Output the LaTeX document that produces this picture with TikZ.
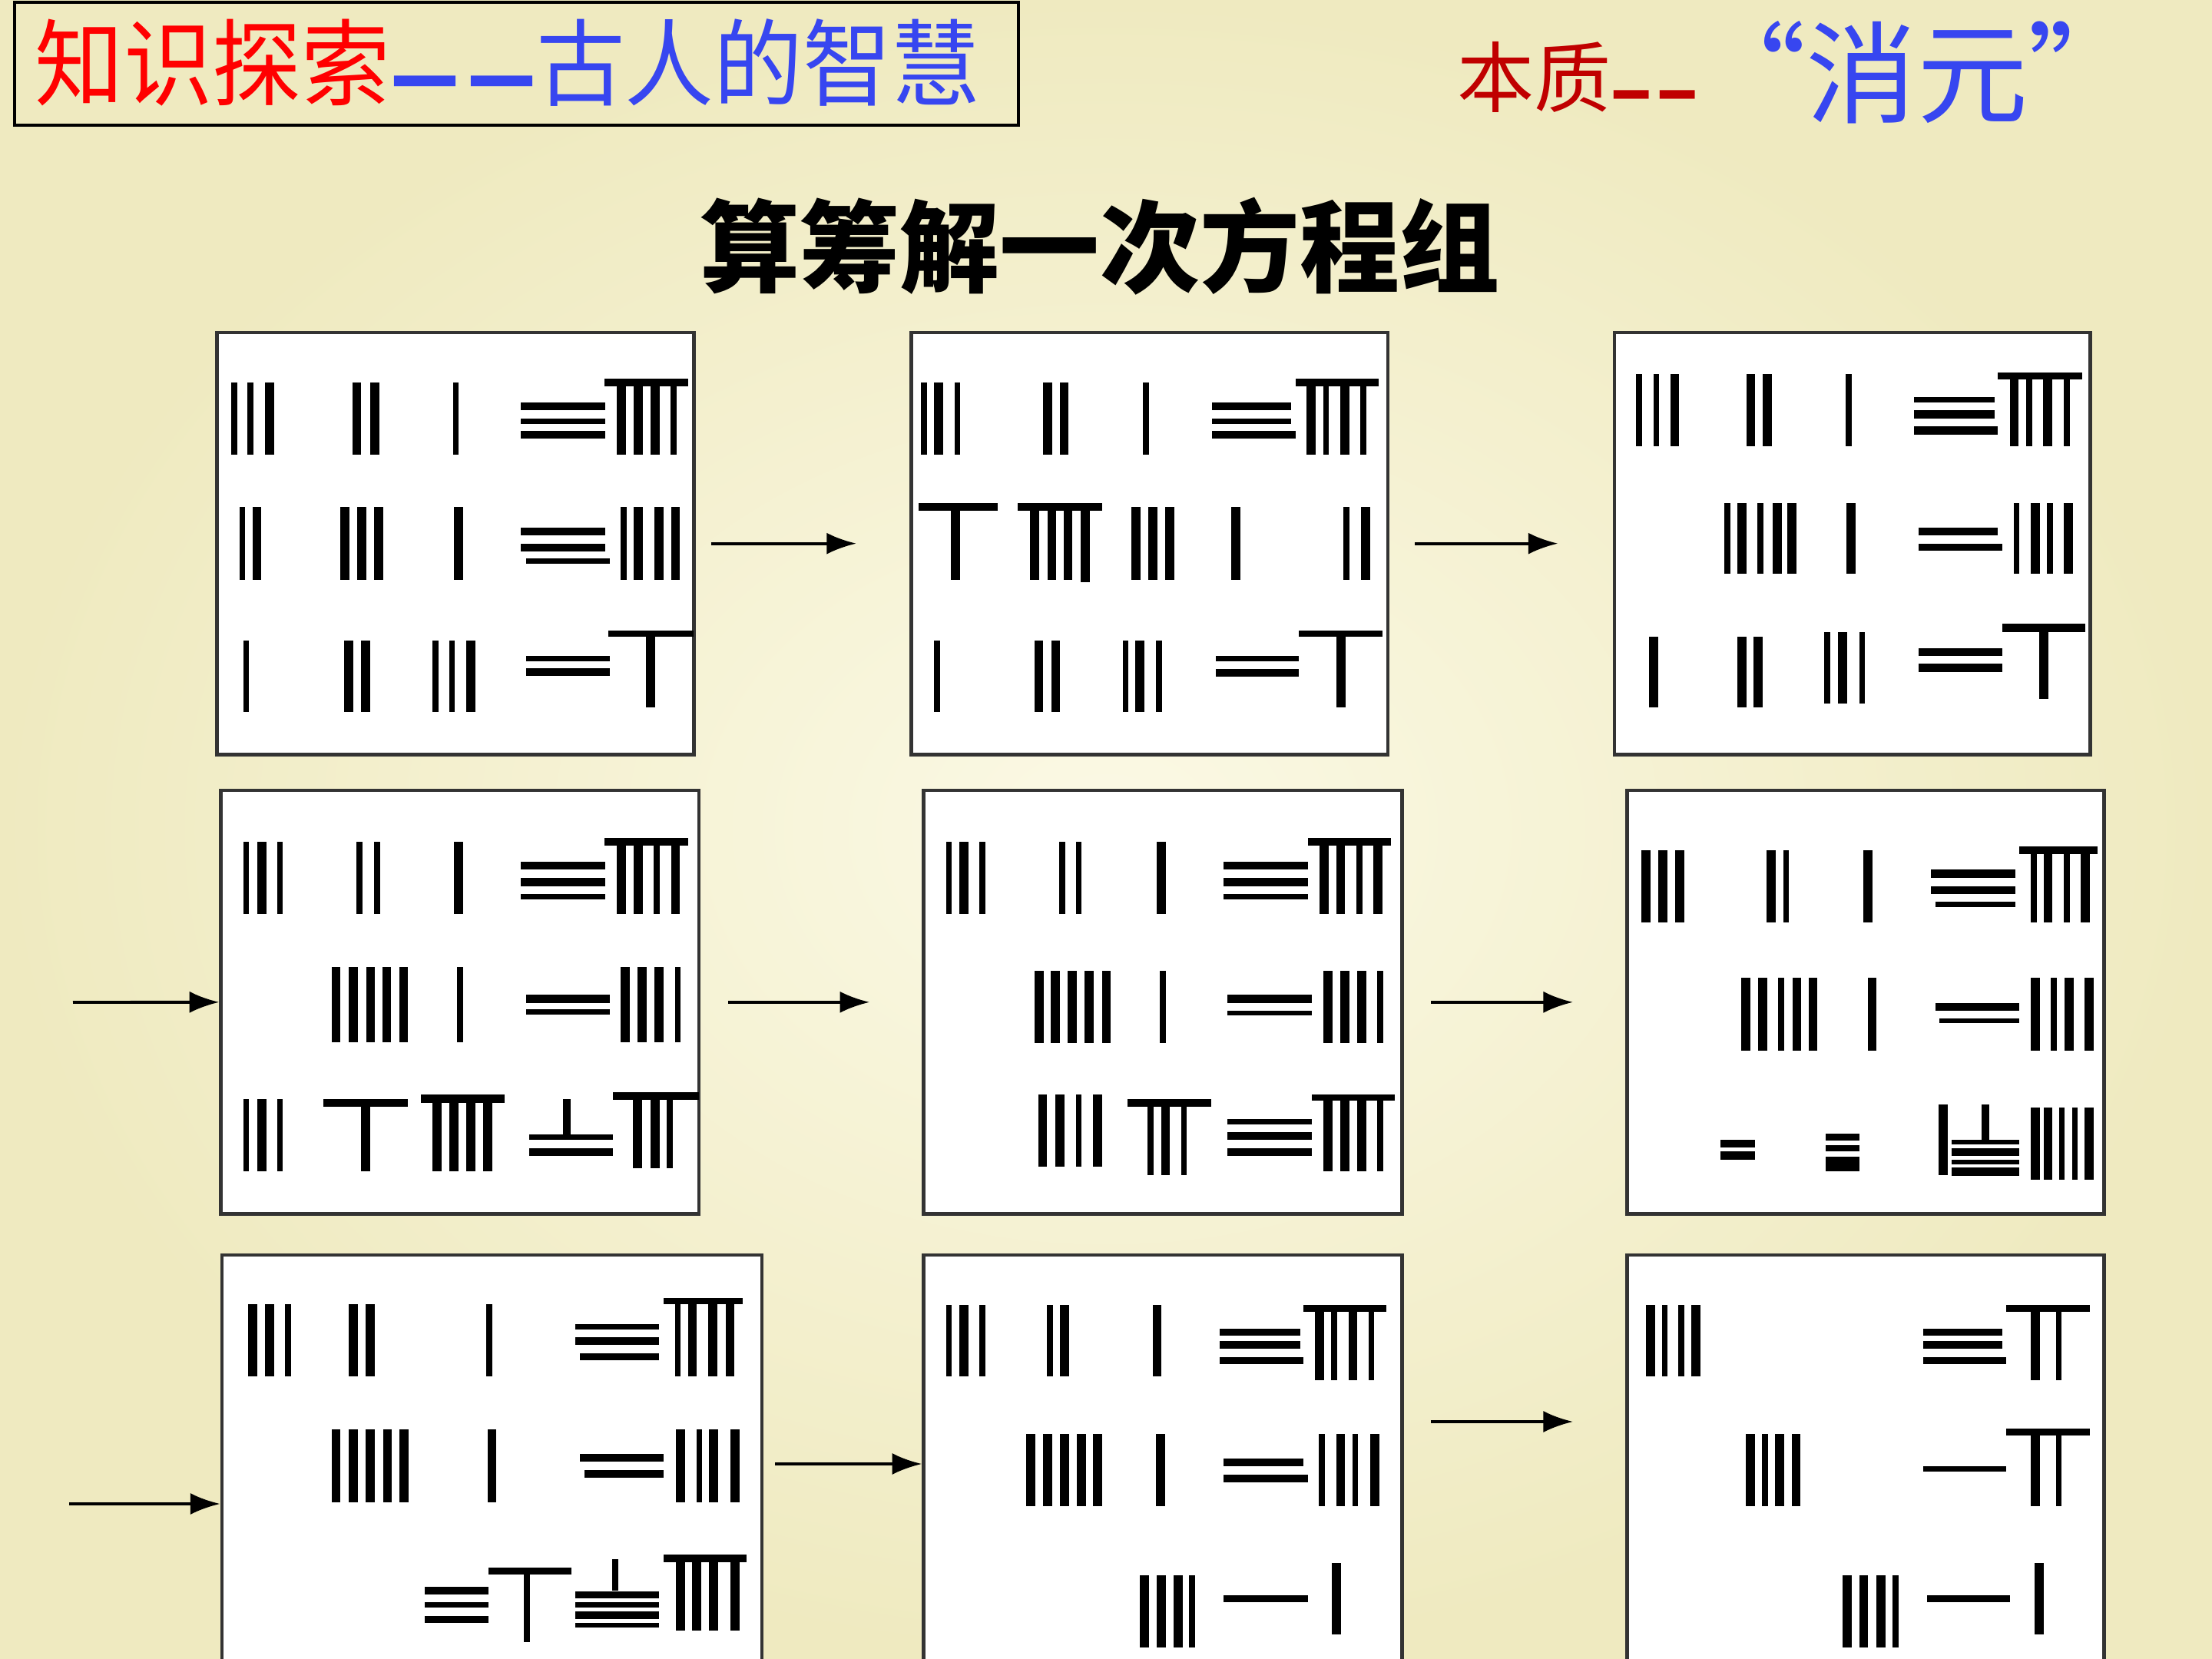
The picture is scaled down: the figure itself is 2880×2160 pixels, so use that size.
\documentclass[tikz,border=0pt]{standalone}
\usepackage{fontspec}
\usepackage{graphicx}
\newfontfamily\cjk{Noto Sans CJK SC}
\usetikzlibrary{arrows.meta,fit}
\definecolor{bgin}{RGB}{251,249,229}
\definecolor{bgout}{RGB}{239,234,192}
\definecolor{tred}{RGB}{255,0,0}
\definecolor{tblue}{RGB}{55,70,240}
\definecolor{dred}{RGB}{192,0,0}
\newcommand\rodV[3]{\foreach \x/\w in {#1}{\fill[rod] ({\x-\w/2},#2) rectangle ({\x+\w/2},#3);}}
\newcommand\rodH[3]{\foreach \y/\w in {#1}{\fill[rod] (#2,{\y-\w/2}) rectangle (#3,{\y+\w/2});}}
\begin{document}
\begin{tikzpicture}[x=0.01cm,y=-0.01cm,
  rod/.style={fill=black},
  rodbox/.style={draw=black!80,line width=1.3pt,fill=white,inner sep=0pt},
  arr/.style={line width=1.1pt,-{Latex[length=11pt,width=8pt]}}]
\useasboundingbox (0,0) rectangle (2880,2160);
\clip (0,0) rectangle (2880,2160);
\shade[inner color=bgin,outer color=bgout] (0,0) rectangle (2880,2160);

% title box
\node[draw=black,line width=1.4pt,inner sep=0pt,fit={(19,3) (1326,163)}] (T) {};
\node[font=\cjk\fontsize{35pt}{36pt}\selectfont] (tt) at (661,83)
  {\scalebox{0.94}[1]{\textcolor{tred}{知识探索}\textcolor{tblue}{\raisebox{-0.1em}{\bfseries\scalebox{0.85}[1]{—}\hspace{3pt}\scalebox{0.85}[1]{—}}古人的智慧}}};
% right heading
\node[font=\cjk\fontsize{28.5pt}{30pt}\selectfont,text=dred,anchor=west,inner sep=0pt] (h1) at (1897,103)
  {本质\raisebox{-0.14em}{\bfseries\scalebox{0.56}[1]{—}\hspace{2.5pt}\scalebox{0.56}[1]{—}}};
\node[font=\cjk\fontsize{41pt}{42pt}\selectfont,text=tblue] (h2) at (2496,94) {“消元”};
% main title
\node[font=\cjk\bfseries\fontsize{37pt}{38pt}\selectfont] (mt) at (1432,321) {算筹解一次方程组};

% frames
\node[rodbox,fit={(282.6,433) (903.5,982.3)}] (B1) {};
\node[rodbox,fit={(1186.3,433) (1807.1,982.3)}] (B2) {};
\node[rodbox,fit={(2101.8,433) (2721.4,982.3)}] (B3) {};
\node[rodbox,fit={(287.7,1029.2) (909.8,1580.4)}] (B4) {};
\node[rodbox,fit={(1202.6,1029.2) (1825.6,1580.4)}] (B5) {};
\node[rodbox,fit={(2118.4,1029.2) (2739.2,1580.4)}] (B6) {};
\node[rodbox,fit={(288.9,1633.8) (992,2300)}] (B7) {};
\node[rodbox,fit={(1202.6,1633.8) (1825.6,2300)}] (B8) {};
\node[rodbox,fit={(2118.4,1633.8) (2739.3,2300)}] (B9) {};

% box 1
\begin{scope}[shift={(270,420)},xscale=0.4209,yscale=0.3699]
\rodV{83/18,133/18,193/28}{210}{465}
\rodV{462/28,517/28}{210}{465}
\rodV{769/18}{210}{465}
\rodH{295/28,347/18,395/28}{970}{1230}
\rodH{210/28}{1228}{1488}
\rodV{1280/28,1332/28,1385/28,1442/18}{225}{465}
\rodV{108/18,153/28}{650}{905}
\rodV{425/28,478/28,530/28}{650}{905}
\rodV{777/28}{650}{905}
\rodH{735/28,792/28}{970}{1230}
\rodH{840/18}{985}{1245}
\rodV{1288/18,1332/28,1397/28,1448/28}{650}{905}
\rodV{120/18}{1118}{1370}
\rodV{437/28,490/28}{1118}{1370}
\rodV{705/18,757/18,815/28}{1118}{1370}
\rodH{1182/18,1230/28}{985}{1245}
\rodH{1095/22}{1240}{1505}
\rodV{1370/28}{1100}{1355}
\end{scope}

% box 2
\begin{scope}[shift={(1180,420)},xscale=0.4209,yscale=0.3699]
\rodV{55/18,100/28,158/18}{210}{465}
\rodV{437/28,488/28}{210}{465}
\rodV{741/18}{210}{465}
\rodH{295/28,347/18}{945}{1190}
\rodH{395/28}{945}{1205}
\rodH{210/28}{1205}{1460}
\rodV{1252/28,1298/18,1356/28,1414/18}{225}{465}
\rodH{648/28}{38}{283}
\rodV{152/28}{660}{905}
\rodH{648/28}{345}{605}
\rodV{397/28,450/28,500/28}{660}{905}
\rodV{553/28}{660}{915}
\rodV{710/28,762/28,815/28}{648}{905}
\rodV{1020/28}{650}{905}
\rodV{1362/18,1420/28}{650}{905}
\rodV{95/18}{1118}{1370}
\rodV{410/28,462/28}{1118}{1370}
\rodV{678/18,723/28,782/18}{1118}{1370}
\rodH{1182/18,1232/28}{958}{1215}
\rodH{1095/22}{1215}{1472}
\rodV{1345/28}{1100}{1355}
\end{scope}

% box 3
\begin{scope}[shift={(2090,420)},xscale=0.4209,yscale=0.3699]
\rodV{105/18,158/18,215/28}{180}{435}
\rodV{450/28,502/28}{180}{435}
\rodV{753/18}{180}{435}
\rodH{272/18,323/28}{955}{1205}
\rodH{380/28}{955}{1215}
\rodH{188/22}{1215}{1475}
\rodV{1265/28,1312/18,1368/28,1428/18}{195}{435}
\rodV{378/18,423/28,480/18,533/28,578/28}{635}{885}
\rodV{760/28}{635}{885}
\rodH{735/28}{970}{1215}
\rodH{790/24}{970}{1228}
\rodV{1272/18,1330/28,1375/18,1433/28}{635}{885}
\rodV{150/28}{1105}{1355}
\rodV{423/28,473/28}{1105}{1355}
\rodV{686/18,735/28,795/18}{1090}{1340}
\rodH{1160/28,1215/28}{970}{1228}
\rodH{1075/28}{1228}{1485}
\rodV{1357/28}{1085}{1325}
\end{scope}

% box 4
\begin{scope}[shift={(270,1020)},xscale=0.4209,yscale=0.3699]
\rodV{120/18,168/28,225/18}{205}{460}
\rodV{470/18,525/18}{205}{460}
\rodV{777/28}{205}{460}
\rodH{290/28,347/28,398/18}{970}{1230}
\rodH{205/28}{1228}{1488}
\rodV{1280/28,1332/28,1390/18,1448/28}{215}{460}
\rodV{398/28,452/28,505/28,555/28,607/28}{645}{910}
\rodV{782/18}{645}{910}
\rodH{758/28,805/18}{985}{1245}
\rodV{1292/28,1345/28,1397/28,1455/18}{645}{910}
\rodV{120/18,168/28,225/18}{1110}{1365}
\rodH{1125/28}{358}{620}
\rodV{490/28}{1135}{1365}
\rodH{1110/28}{660}{920}
\rodV{710/28,762/28,815/28,868/28}{1120}{1365}
\rodV{1112/24}{1110}{1245}
\rodH{1245/18,1297/28}{995}{1255}
\rodH{1100/28}{1255}{1520}
\rodV{1330/28,1385/28,1430/18}{1110}{1355}
\end{scope}

% box 5
\begin{scope}[shift={(1190,1020)},xscale=0.4209,yscale=0.3699]
\rodV{108/18,155/28,212/18}{205}{460}
\rodV{458/18,510/18}{205}{460}
\rodV{765/28}{205}{460}
\rodH{290/28,347/28,398/18}{958}{1218}
\rodH{205/28}{1218}{1475}
\rodV{1268/28,1320/28,1378/18,1435/28}{215}{460}
\rodV{387/28,438/28,490/28,542/28,595/28}{660}{915}
\rodV{770/18}{660}{915}
\rodH{758/28,808/18}{970}{1230}
\rodV{1280/28,1333/28,1385/28,1442/18}{660}{915}
\rodV{398/28,452/28,510/18,568/28}{1095}{1350}
\rodH{1125/28}{660}{920}
\rodV{732/18,778/28,835/18}{1135}{1380}
\rodH{1190/18,1240/28,1297/28}{970}{1230}
\rodH{1105/22}{1230}{1488}
\rodV{1280/28,1333/28,1385/28,1442/18}{1110}{1365}
\end{scope}

% box 6
\begin{scope}[shift={(2110,1020)},xscale=0.4209,yscale=0.3699]
\rodV{78/28,130/28,182/28}{235}{490}
\rodV{465/28,512/18}{235}{490}
\rodV{765/28}{235}{490}
\rodH{318/28,375/28}{960}{1220}
\rodH{425/18}{975}{1220}
\rodH{235/28}{1232}{1475}
\rodV{1278/18,1322/28,1380/18,1438/28}{245}{490}
\rodV{388/28,440/28,497/18,545/28,595/28}{685}{940}
\rodV{778/28}{685}{940}
\rodH{787/28}{975}{1232}
\rodH{835/18}{985}{1232}
\rodV{1283/28,1340/18,1387/28,1450/28}{685}{940}
\rodH{1268/28,1310/28}{310}{415}
\rodH{1245/22,1283/22,1330/30,1355/22}{635}{740}
\rodV{998/28}{1130}{1380}
\rodV{1128/24}{1130}{1255}
\rodH{1262/18,1297/28,1333/18,1367/28}{1025}{1232}
\rodV{1283/28,1322/28,1365/18,1405/18,1450/28}{1140}{1395}
\end{scope}

% box 7
\begin{scope}[shift={(270,1620)},xscale=0.4719,yscale=0.3444]
\rodV{125/25,172/25,222/16}{225}{500}
\rodV{402/25,450/25}{225}{500}
\rodV{778/16}{225}{500}
\rodH{312/20,365/28}{1015}{1245}
\rodH{425/28}{1028}{1245}
\rodH{215/24}{1258}{1478}
\rodV{1298/16,1338/25,1395/25,1442/25}{225}{500}
\rodV{355/25,402/25,450/25,497/25,543/25}{700}{975}
\rodV{785/25}{700}{975}
\rodH{808/28}{1028}{1258}
\rodH{868/28}{1040}{1258}
\rodV{1305/25,1357/16,1397/25,1455/25}{700}{975}
\rodH{1310/28,1362/20,1418/28}{600}{775}
\rodH{1235/28}{775}{1005}
\rodV{882/16}{1245}{1505}
\rodV{1125/18}{1190}{1310}
\rodH{1325/28,1362/20,1402/28,1440/20}{1015}{1245}
\rodH{1188/30}{1258}{1488}
\rodV{1305/25,1350/25,1397/25,1455/25}{1195}{1460}
\end{scope}

% box 8
\begin{scope}[shift={(1190,1620)},xscale=0.4209,yscale=0.3444]
\rodV{108/18,155/28,212/18}{230}{500}
\rodV{420/18,465/28}{230}{500}
\rodV{752/28}{230}{500}
\rodH{332/28,380/28}{945}{1195}
\rodH{440/28}{945}{1205}
\rodH{242/28}{1205}{1462}
\rodV{1255/28,1300/18,1358/28,1415/18}{255}{515}
\rodV{362/28,413/28,465/28,517/28,568/28}{718}{990}
\rodV{763/28}{718}{990}
\rodH{825/28}{958}{1205}
\rodH{885/28}{958}{1218}
\rodV{1262/18,1320/28,1365/18,1425/28}{718}{990}
\rodV{712/28,765/28,817/28,860/18}{1250}{1525}
\rodH{1340/28}{958}{1218}
\rodV{1307/28}{1205}{1475}
\end{scope}

% box 9
\begin{scope}[shift={(2110,1620)},xscale=0.4209,yscale=0.3444]
\rodV{92/28,137/18,187/18,233/28}{230}{500}
\rodH{332/28,380/28}{935}{1180}
\rodH{440/28}{935}{1192}
\rodH{242/28}{1192}{1452}
\rodV{1283/28,1355/18}{255}{515}
\rodV{402/28,447/18,492/28,543/28}{718}{990}
\rodH{848/20}{935}{1192}
\rodH{710/24}{1192}{1452}
\rodV{1283/28,1355/18}{720}{990}
\rodV{700/28,752/28,805/28,850/18}{1250}{1525}
\rodH{1340/28}{948}{1205}
\rodV{1295/28}{1205}{1475}
\end{scope}

% arrows
\draw[arr,shorten <=0.2cm,shorten >=0.69cm] (B1.east) -- (B2.west);
\draw[arr,shorten <=0.33cm,shorten >=0.71cm] (B2.east) -- (B3.west);
\coordinate (s4) at (95,1305);
\draw[arr] (s4) -- (B4.west);
\draw[arr,shorten <=0.36cm,shorten >=0.68cm] (B4.east) -- (B5.west);
\draw[arr,shorten <=0.35cm,shorten >=0.68cm] (B5.east) -- (B6.west);
\coordinate (s7) at (90,1958);
\draw[arr] (s7) -- (s7 -| B7.west);
\coordinate (r78) at (0,1906);
\draw[arr,shorten <=0.15cm] (B7.east |- r78) -- (B8.west |- r78);
\coordinate (r89) at (0,1851);
\draw[arr,shorten <=0.35cm,shorten >=0.68cm] (B8.east |- r89) -- (B9.west |- r89);
\end{tikzpicture}
\end{document}
